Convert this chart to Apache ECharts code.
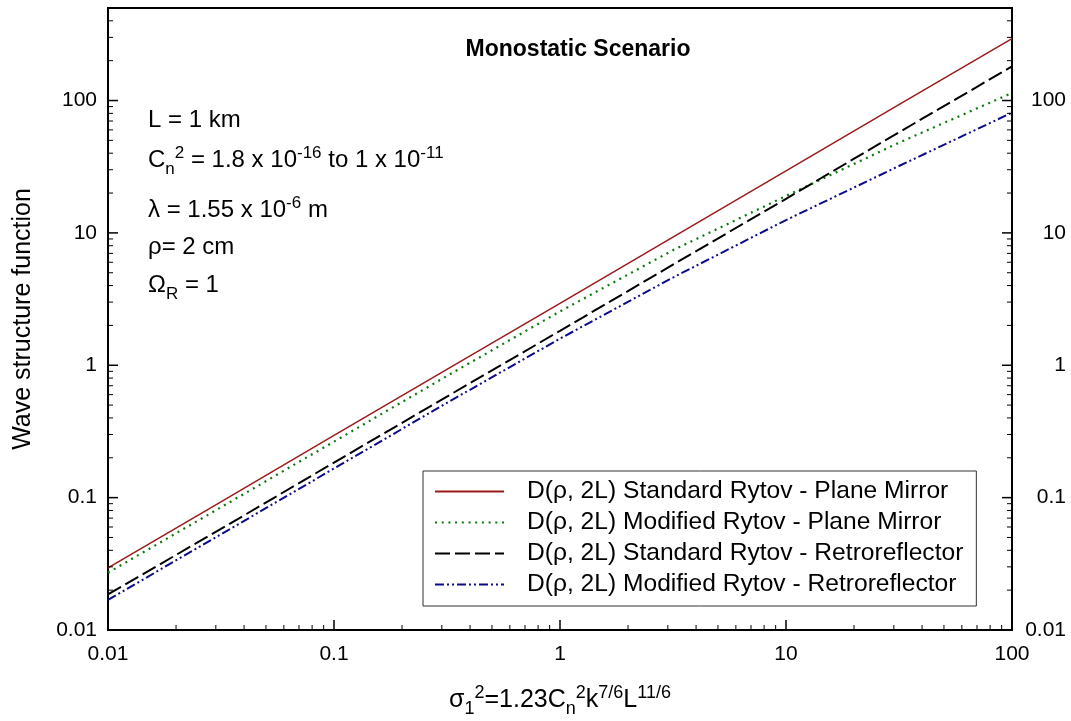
<!DOCTYPE html>
<html><head><meta charset="utf-8">
<script src="https://cdn.jsdelivr.net/npm/echarts@6/dist/echarts.min.js"></script>
<style>html,body{margin:0;padding:0;background:#fff}#c{width:1071px;height:721px}</style>
</head><body><div id="c"></div>
<script>
// ---- data ----
const sigma    = [0.01, 0.0316, 0.1, 0.316, 1, 3.16, 10, 31.6, 100];
const stdPlane = [0.0295, 0.093, 0.295, 0.93, 2.93, 9.3, 29.4, 93, 293];
const modPlane = [0.0271, 0.0845, 0.265, 0.83, 2.55, 7.4, 19, 48, 114];
const stdRetro = [0.0186, 0.058, 0.184, 0.58, 1.82, 5.75, 18.1, 57.5, 181];
const modRetro = [0.0169, 0.0528, 0.166, 0.52, 1.59, 4.6, 12.5, 32, 81];
const seriesNames = [
  'D(\u03c1, 2L) Standard Rytov - Plane Mirror',
  'D(\u03c1, 2L) Modified Rytov - Plane Mirror',
  'D(\u03c1, 2L) Standard Rytov - Retroreflector',
  'D(\u03c1, 2L) Modified Rytov - Retroreflector'
];
const xTickValues = [0.01, 0.1, 1, 10, 100];
const xTickLabels = ['0.01', '0.1', '1', '10', '100'];
const yTickValues = [0.01, 0.1, 1, 10, 100];
const yTickLabels = ['0.01', '0.1', '1', '10', '100'];
const minorMult = [2, 3, 4, 5, 6, 7, 8, 9];
const xMin = 0.01, xMax = 100, yMin = 0.01, yMax = 500;

const FONT = '"Liberation Sans", Arial, Helvetica, sans-serif';

function pair(xs, ys) { return xs.map((x, i) => [x, ys[i]]); }
function labelFor(values, labels) {
  return function (v) {
    for (let i = 0; i < values.length; i++) {
      if (Math.abs(Math.log10(v) - Math.log10(values[i])) < 1e-6) return labels[i];
    }
    return '';
  };
}

// tick marks: [x, y, side(0=left,1=right,2=bottom), length]
const ticks = [];
function inRange(v, a, b) { return v >= a * 0.9999 && v <= b * 1.0001; }
yTickValues.forEach(d => {
  ticks.push([xMin, d, 0, 10]); ticks.push([xMax, d, 1, 10]);
  minorMult.forEach(m => { const v = d * m; if (inRange(v, yMin, yMax) && v < yMax * 0.999) { ticks.push([xMin, v, 0, 5]); ticks.push([xMax, v, 1, 5]); } });
});
xTickValues.forEach(d => {
  ticks.push([d, yMin, 2, 10]);
  minorMult.forEach(m => { const v = d * m; if (inRange(v, xMin, xMax)) ticks.push([v, yMin, 2, 5]); });
});

const chart = echarts.init(document.getElementById('c'), null, { renderer: 'canvas' });

const mainRich = {
  m: { fontSize: 24, fontFamily: FONT, color: '#000' },
  sup: { fontSize: 17, fontFamily: FONT, color: '#000', padding: [0, 0, 14, 0] },
  sub: { fontSize: 17, fontFamily: FONT, color: '#000', padding: [18, 0, 0, 0] }
};
function annot(text, y) {
  return { type: 'text', x: 148, y: y, z: 100,
    style: { text: text, rich: mainRich, fontSize: 24, fontFamily: FONT, fill: '#000', align: 'left', verticalAlign: 'middle' } };
}

const option = {
  animation: false,
  backgroundColor: '#fff',
  grid: { left: 108, right: 59, top: 8, bottom: 91, outerBoundsMode: 'none', containLabel: false,
    show: true, borderColor: '#000', borderWidth: 2, backgroundColor: 'transparent' },
  legend: {
    data: seriesNames,
    orient: 'vertical', left: 423, top: 471,
    padding: [8, 13, 9, 11],
    itemWidth: 69, itemHeight: 14, itemGap: 6,
    borderColor: '#333', borderWidth: 1, backgroundColor: '#fff',
    itemStyle: { opacity: 0 },
    textStyle: { fontSize: 24.6, fontFamily: FONT, color: '#000', padding: [0, 0, 0, 18] },
    selectedMode: false
  },
  xAxis: {
    type: 'log', logBase: 10, min: xMin, max: xMax,
    axisLine: { show: true, lineStyle: { color: '#000', width: 2 } },
    axisTick: { show: false }, splitLine: { show: false }, minorTick: { show: false },
    axisLabel: { fontSize: 21, fontFamily: FONT, color: '#000', margin: 14, formatter: labelFor(xTickValues, xTickLabels), showMinLabel: true, showMaxLabel: true }
  },
  yAxis: [{
    type: 'log', logBase: 10, min: yMin, max: yMax, position: 'left',
    name: 'Wave structure function', nameLocation: 'middle', nameGap: 72, nameRotate: 90,
    nameTextStyle: { fontSize: 25, fontFamily: FONT, color: '#000' },
    axisLine: { show: true, lineStyle: { color: '#000', width: 2 } },
    axisTick: { show: false }, splitLine: { show: false },
    axisLabel: { fontSize: 21, fontFamily: FONT, color: '#000', margin: 11, formatter: labelFor(yTickValues, yTickLabels), showMaxLabel: false }
  }, {
    type: 'log', logBase: 10, min: yMin, max: yMax, position: 'right',
    axisLine: { show: true, lineStyle: { color: '#000', width: 2 } },
    axisTick: { show: false }, splitLine: { show: false },
    axisLabel: { fontSize: 21, fontFamily: FONT, color: '#000', margin: 54, align: 'right', formatter: labelFor(yTickValues, yTickLabels), showMaxLabel: false }
  }],
  series: [
    { name: seriesNames[0], type: 'line', data: pair(sigma, stdPlane), symbol: 'none', z: 4,
      lineStyle: { color: '#9B1B1B', width: 1.5, type: 'solid' }, itemStyle: { color: '#9B1B1B' } },
    { name: seriesNames[1], type: 'line', data: pair(sigma, modPlane), symbol: 'none', z: 3,
      lineStyle: { color: '#087A08', width: 2.2, type: [2, 4.7] }, itemStyle: { color: '#087A08' } },
    { name: seriesNames[2], type: 'line', data: pair(sigma, stdRetro), symbol: 'none', z: 3,
      lineStyle: { color: '#000000', width: 2, type: [15, 5] }, itemStyle: { color: '#000000' } },
    { name: seriesNames[3], type: 'line', data: pair(sigma, modRetro), symbol: 'none', z: 2,
      lineStyle: { color: '#0C0C8A', width: 2, type: [9, 3, 2, 3, 2, 3] }, itemStyle: { color: '#0C0C8A' } },
    { name: 'ticks', type: 'custom', data: ticks, encode: { x: 0, y: 1 }, silent: true, clip: false, z: 10,
      renderItem: function (params, api) {
        const side = api.value(2), len = api.value(3);
        const p = api.coord([api.value(0), api.value(1)]);
        let x2 = p[0], y2 = p[1];
        if (side === 0) x2 = p[0] + len; else if (side === 1) x2 = p[0] - len; else y2 = p[1] - len;
        return { type: 'line', shape: { x1: p[0], y1: p[1], x2: x2, y2: y2 }, style: { stroke: '#000', lineWidth: len > 6 ? 1.5 : 1 } };
      } }
  ],
  graphic: [
    { type: 'text', x: 578, y: 50, z: 100, style: { text: 'Monostatic Scenario', fontSize: 23, fontWeight: 'bold', fontFamily: FONT, fill: '#000', align: 'center', verticalAlign: 'middle' } },
    annot('L = 1 km', 120),
    annot('{m|C}{sub|n}{sup|2}{m| = 1.8 x 10}{sup|-16}{m| to 1 x 10}{sup|-11}', 160),
    annot('{m|\u03bb = 1.55 x 10}{sup|-6}{m| m}', 210),
    annot('\u03c1= 2 cm', 247),
    annot('{m|\u03a9}{sub|R}{m| = 1}', 285),
    { type: 'text', x: 560, y: 700, z: 100,
      style: { text: '{m|\u03c3}{sub|1}{sup|2}{m|=1.23C}{sub|n}{sup|2}{m|k}{sup|7/6}{m|L}{sup|11/6}',
        rich: { m: { fontSize: 25, fontFamily: FONT, color: '#000' },
                sup: { fontSize: 18, fontFamily: FONT, color: '#000', padding: [0, 0, 14, 0] },
                sub: { fontSize: 18, fontFamily: FONT, color: '#000', padding: [18, 0, 0, 0] } },
        fontSize: 25, fontFamily: FONT, fill: '#000', align: 'center', verticalAlign: 'middle' } }
  ]
};
chart.setOption(option);
</script>
</body></html>
